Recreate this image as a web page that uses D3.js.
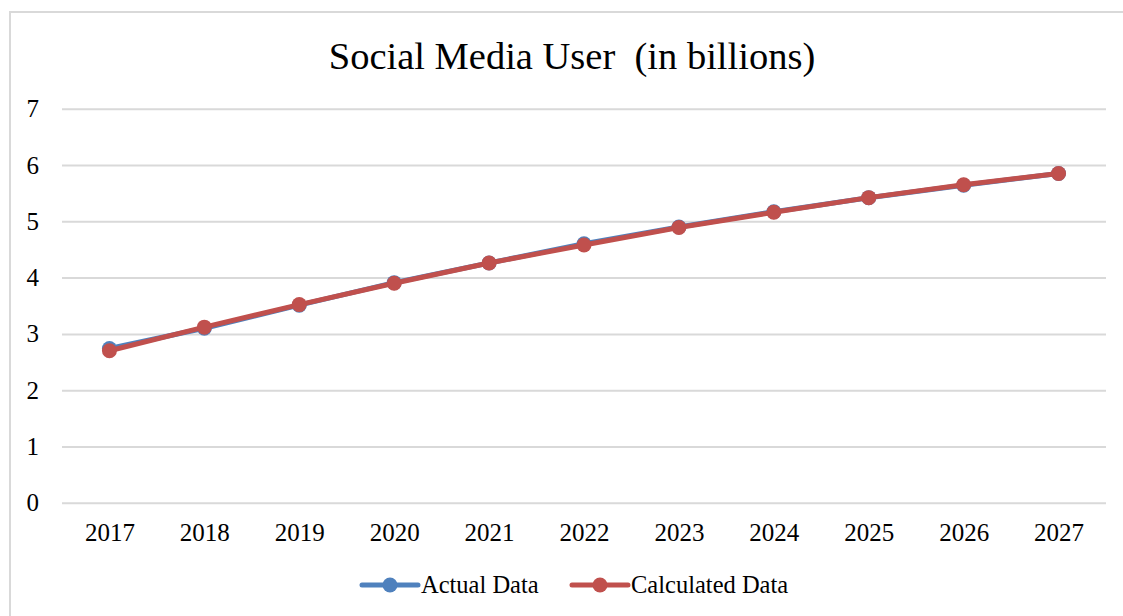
<!DOCTYPE html>
<html lang="en">
<head>
  <meta charset="UTF-8">
  <title>Social Media User</title>
  <style>
    body { margin: 0; background: #fff; }
    svg text { font-family: "Liberation Serif", serif; fill: #000; }
  </style>
</head>
<body>
<svg id="chart" width="1123" height="616"></svg>
<script src="https://d3js.org/d3.v7.min.js"></script>
<script>
  // data
  const years = ["2017", "2018", "2019", "2020", "2021", "2022", "2023", "2024", "2025", "2026", "2027"];
  const actual = [2.74, 3.10, 3.51, 3.91, 4.26, 4.60, 4.90, 5.17, 5.42, 5.64, 5.85];
  const calculated = [2.70, 3.12, 3.52, 3.90, 4.26, 4.58, 4.89, 5.16, 5.42, 5.65, 5.85];
  const yTicks = [0, 1, 2, 3, 4, 5, 6, 7];

  const svg = d3.select("#chart");
  const plot = { left: 62, right: 1106, top: 108.7, bottom: 502.8 };

  // outer chart border (right and bottom edges run off the picture)
  svg.append("rect")
    .attr("x", 10).attr("y", 12)
    .attr("width", 1200).attr("height", 700)
    .attr("fill", "none").attr("stroke", "#d9d9d9").attr("stroke-width", 2);

  const x = d3.scalePoint().domain(years).range([plot.left, plot.right]).padding(0.5);
  const y = d3.scaleLinear().domain([0, 7]).range([plot.bottom, plot.top]);

  // gridlines + y labels
  const yAxis = svg.append("g")
    .attr("transform", `translate(${plot.left},0)`)
    .call(d3.axisLeft(y).tickValues(yTicks).tickFormat(d3.format("d"))
      .tickSize(-(plot.right - plot.left)).tickPadding(23));
  yAxis.select(".domain").remove();
  yAxis.selectAll(".tick line").attr("stroke", "#d9d9d9").attr("stroke-width", 2);
  yAxis.selectAll(".tick text").attr("font-size", 25).attr("font-family", "Liberation Serif");

  // x labels
  const xAxis = svg.append("g")
    .attr("transform", `translate(0,${plot.bottom})`)
    .call(d3.axisBottom(x).tickSize(0).tickPadding(20));
  xAxis.select(".domain").remove();
  xAxis.selectAll(".tick text").attr("font-size", 25).attr("font-family", "Liberation Serif");

  // title
  svg.append("text")
    .attr("x", 572).attr("y", 69)
    .attr("text-anchor", "middle")
    .attr("font-size", 38.5)
    .attr("xml:space", "preserve")
    .text("Social Media User  (in billions)");

  const series = [
    { name: "Actual Data", values: actual, color: "#4f81bd" },
    { name: "Calculated Data", values: calculated, color: "#c0504d" }
  ];

  const line = d3.line()
    .x(function (d, i) { return x(years[i]); })
    .y(function (d) { return y(d); });

  series.forEach(function (s) {
    svg.append("path")
      .datum(s.values)
      .attr("d", line)
      .attr("fill", "none")
      .attr("stroke", s.color)
      .attr("stroke-width", 5)
      .attr("stroke-linejoin", "round");
    svg.append("g").selectAll("circle")
      .data(s.values)
      .join("circle")
      .attr("cx", function (d, i) { return x(years[i]); })
      .attr("cy", function (d) { return y(d); })
      .attr("r", 7.5)
      .attr("fill", s.color);
  });

  // legend
  const legendPos = [362, 572];
  series.forEach(function (s, i) {
    const g = svg.append("g").attr("transform", `translate(${legendPos[i]},585)`);
    g.append("line").attr("x1", 0).attr("x2", 56)
      .attr("stroke", s.color).attr("stroke-width", 5).attr("stroke-linecap", "round");
    g.append("circle").attr("cx", 28).attr("r", 7.5).attr("fill", s.color);
    g.append("text").attr("x", 59).attr("y", 8).attr("font-size", 24.5).text(s.name);
  });
</script>
</body>
</html>
